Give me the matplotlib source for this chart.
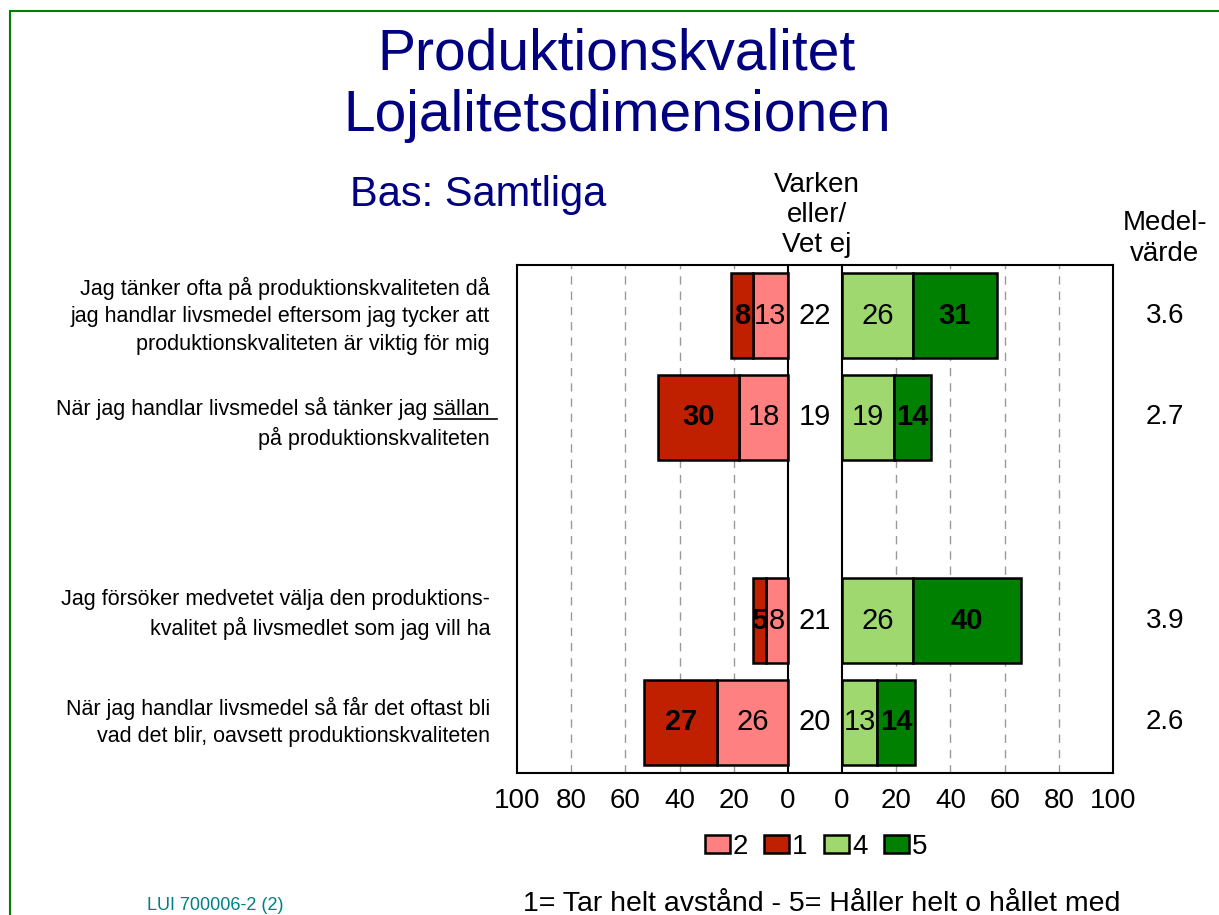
import matplotlib.pyplot as plt
import numpy as np
from matplotlib import transforms
from matplotlib.patches import Rectangle
from matplotlib.lines import Line2D

plt.rcParams['font.family'] = ['Liberation Sans', 'DejaVu Sans']
NARROW = ['Liberation Sans Narrow', 'Liberation Sans', 'DejaVu Sans']

# data
statements = [
    'Jag tänker ofta på produktionskvaliteten då\njag handlar livsmedel eftersom jag tycker att\nproduktionskvaliteten är viktig för mig',
    'När jag handlar livsmedel så tänker jag sällan\npå produktionskvaliteten',
    'Jag försöker medvetet välja den produktions-\nkvalitet på livsmedlet som jag vill ha',
    'När jag handlar livsmedel så får det oftast bli\nvad det blir, oavsett produktionskvaliteten',
]
rows = [0, 1, 3, 4]
val1 = [8, 30, 5, 27]
val2 = [13, 18, 8, 26]
neutral = [22, 19, 21, 20]
val4 = [26, 19, 26, 13]
val5 = [31, 14, 40, 14]
means = ['3.6', '2.7', '3.9', '2.6']
tick_vals = [100, 80, 60, 40, 20, 0]

c1 = '#C02000'
c2 = '#FF8080'
c4 = '#A0D870'
c5 = '#008000'
navy = '#000080'

W, H = 1219, 915
gap = 10  # half width of the middle column, in axis units

fig = plt.figure(figsize=(W / 100, H / 100), dpi=100)
ax = fig.add_axes([517 / W, 142 / H, 596 / W, 508 / H])

y = np.array(rows)
v1 = np.array(val1)
v2 = np.array(val2)
v4 = np.array(val4)
v5 = np.array(val5)
bh = 0.84
lw = 1.8

b2 = ax.barh(y, -v2, left=-gap, height=bh, color=c2, edgecolor='black', lw=lw, label='2', zorder=3)
b1 = ax.barh(y, -v1, left=-gap - v2, height=bh, color=c1, edgecolor='black', lw=lw, label='1', zorder=3)
b4 = ax.barh(y, v4, left=gap, height=bh, color=c4, edgecolor='black', lw=lw, label='4', zorder=3)
b5 = ax.barh(y, v5, left=gap + v4, height=bh, color=c5, edgecolor='black', lw=lw, label='5', zorder=3)

# value labels
fs = 21
for i in range(len(rows)):
    ax.text(-gap - v2[i] / 2, y[i], str(v2[i]), ha='center', va='center', fontsize=fs, zorder=5)
    ax.text(-gap - v2[i] - v1[i] / 2, y[i], str(v1[i]), ha='center', va='center', fontsize=fs,
            fontweight='bold', zorder=5)
    ax.text(0, y[i], str(neutral[i]), ha='center', va='center', fontsize=fs, zorder=5)
    ax.text(gap + v4[i] / 2, y[i], str(v4[i]), ha='center', va='center', fontsize=fs, zorder=5)
    ax.text(gap + v4[i] + v5[i] / 2, y[i], str(v5[i]), ha='center', va='center', fontsize=fs,
            fontweight='bold', zorder=5)

# grid and middle column
for t in tick_vals[1:-1]:
    ax.axvline(-gap - t, color='#999999', lw=1, ls=(0, (6, 5)), zorder=1)
    ax.axvline(gap + t, color='#999999', lw=1, ls=(0, (6, 5)), zorder=1)
ax.axvline(-gap, color='black', lw=1.5, zorder=4)
ax.axvline(gap, color='black', lw=1.5, zorder=4)

ax.set_xlim(-110, 110)
ax.set_ylim(4.5, -0.5)
pos = [-gap - t for t in tick_vals] + [gap + t for t in tick_vals[::-1]]
labs = [str(t) for t in tick_vals] + [str(t) for t in tick_vals[::-1]]
ax.set_xticks(pos)
ax.set_xticklabels(labs)
ax.set_yticks([])
ax.tick_params(axis='x', length=0, labelsize=20, pad=11)
for s in ax.spines.values():
    s.set_linewidth(1.5)

# statement labels
tr = transforms.blended_transform_factory(fig.transFigure, ax.transData)
lab_shift = [0, 0.06, -0.06, 0]
lab_objs = []
for i, txt in enumerate(statements):
    t = ax.text(490 / W, y[i] + lab_shift[i], txt, transform=tr, ha='right', va='center',
                fontsize=15.5, family=NARROW, linespacing=1.4, clip_on=False)
    lab_objs.append(t)

# mean values
ax.text(1165 / W, 1 - 239 / H, 'Medel-\nvärde', transform=fig.transFigure, ha='center',
        va='center', fontsize=20, linespacing=1.25)
for i in range(len(rows)):
    ax.text(1165 / W, y[i], means[i], transform=tr, ha='center', va='center', fontsize=20,
            clip_on=False)

# titles
fig.text(617 / W, 1 - 54 / H, 'Produktionskvalitet', ha='center', va='center', fontsize=41, color=navy)
fig.text(617 / W, 1 - 116 / H, 'Lojalitetsdimensionen', ha='center', va='center', fontsize=41, color=navy)
fig.text(478 / W, 1 - 195 / H, 'Bas: Samtliga', ha='center', va='center', fontsize=30, color=navy)
fig.text(817 / W, 1 - 215 / H, 'Varken\neller/\nVet ej', ha='center', va='center', fontsize=20,
         linespacing=1.22)

# legend
fig.legend(handles=[b2, b1, b4, b5], labels=['2', '1', '4', '5'], loc='center',
           bbox_to_anchor=(816 / W, 1 - 847 / H), ncol=4, frameon=False, fontsize=20,
           handlelength=0.9, handleheight=0.6, handletextpad=0.1, columnspacing=0.6,
           borderpad=0)

# footer
fig.text(215 / W, 1 - 906 / H, 'LUI 700006-2 (2)', ha='center', va='center', fontsize=13,
         color='#008080', family=NARROW)
fig.text(822 / W, 1 - 904 / H, '1= Tar helt avstånd - 5= Håller helt o hållet med',
         ha='center', va='center', fontsize=20.5)

# green border
fig.add_artist(Rectangle((10 / W, -0.1), 1.2, 1 - 11 / H + 0.1, fill=False,
                         edgecolor='#008000', lw=1.5, transform=fig.transFigure))

# underline for "sällan"
fig.canvas.draw()
r = fig.canvas.get_renderer()
bb = lab_objs[1].get_window_extent(r)
tmp = fig.text(0, 0, 'sällan', fontsize=15.5, family=NARROW)
wsal = tmp.get_window_extent(r).width
tmp.remove()
uy = bb.y1 - bb.height / 2 + 4
fig.add_artist(Line2D([(bb.x1 - wsal) / W, (bb.x1 + 7) / W], [uy / H, uy / H], color='black',
                      lw=1.2, transform=fig.transFigure))

fig.savefig('out.png', dpi=100)
